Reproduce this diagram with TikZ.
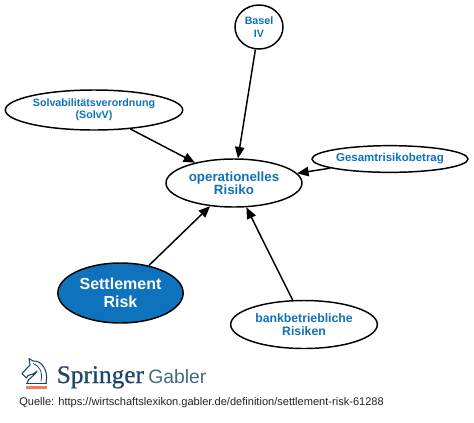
\documentclass[tikz,border=0pt]{standalone}
\usepackage{fontspec}
\setmainfont{Liberation Sans}
\newfontfamily\logoserif[FakeBold=0.5]{Liberation Serif}
\usetikzlibrary{arrows.meta, shapes.geometric}
\definecolor{linkblue}{HTML}{0F72B8}
\definecolor{mainblue}{HTML}{0F72BC}
\definecolor{logoblue}{HTML}{1E4468}
\definecolor{logogrey}{HTML}{47688A}
\definecolor{logoorange}{HTML}{E8825A}
\definecolor{quelle}{HTML}{222222}
\begin{document}
\begin{tikzpicture}[
  x=0.75pt, y=-0.75pt,
  every node/.style={align=center},
  term/.style={ellipse, draw=black, line width=1.1pt, fill=white, inner sep=0pt,
               text=linkblue, font=\bfseries\fontsize{8}{8.7}\selectfont},
  hub/.style={term, font=\bfseries\fontsize{10}{10}\selectfont},
  main/.style={term, fill=mainblue, text=white,
               font=\bfseries\fontsize{12}{13.5}\selectfont},
  arr/.style={-{Triangle[length=3mm, width=2.5mm]}, line width=1.1pt, draw=black}
]
  \useasboundingbox (0,0) rectangle (474,422);

  \node[term, font=\bfseries\fontsize{8}{9.7}\selectfont, minimum width=36pt, minimum height=33pt] (basel) at (259,27) {Basel\\IV};
  \node[term, minimum width=133pt, minimum height=30pt] (solv) at (94,110)
    {Solvabilitätsverordnung\\(SolvV)};
  \node[hub, minimum width=102pt, minimum height=36pt] (oprisk) at (234,183)
    {operationelles\\Risiko};
  \node[term, font=\bfseries\fontsize{8.6}{10}\selectfont, minimum width=117pt, minimum height=20pt] (gesamt) at (390,159)
    {Gesamtrisikobetrag};
  \node[main, minimum width=94pt, minimum height=45pt] (settle) at (120.5,293)
    {Settlement\\Risk};
  \node[term, font=\bfseries\fontsize{9.2}{10.3}\selectfont, minimum width=110pt, minimum height=36pt] (bank) at (304,324.5)
    {bankbetriebliche\\Risiken};

  \draw[arr] (basel) -- (oprisk);
  \draw[arr] (solv) -- (oprisk);
  \draw[arr] (gesamt) -- (oprisk);
  \draw[arr] (settle) -- (oprisk);
  \draw[arr] (bank.115) -- (oprisk.-63);

  % logo
  \draw[logoblue, line width=0.8pt, line join=round]
    (27,383) .. controls (28,378) and (35,376) .. (37,371)
    .. controls (34,374) and (31,375) .. (28,375.5)
    -- (26.5,378) -- (22,373.5) -- (30,365) -- (29,358.5) -- (33,361)
    .. controls (41,360) and (49,370) .. (46,383);
  \draw[logoblue, line width=0.6pt] (33,363.5) .. controls (39,365) and (43,372) .. (41,381);
  \draw[logoblue, line width=1pt] (26,383.5) -- (47,383.5);
  \fill[logoorange] (26,386.3) rectangle (47,388.8);

  \node[font=\logoserif\fontsize{19}{22}\selectfont, text=logoblue, anchor=base west, inner sep=0pt]
    (springer) at (56.5,383) {Springer};
  \node[font=\fontsize{14.5}{18}\selectfont, text=logogrey, anchor=base west, inner sep=0pt]
    (gabler) at (148,383) {Gabler};
  \node[font=\fontsize{8.3}{10}\selectfont, text=quelle, anchor=base west, inner sep=0pt]
    (quelle) at (19,405) {Quelle: https://wirtschaftslexikon.gabler.de/definition/settlement-risk-61288};
\end{tikzpicture}
\end{document}
